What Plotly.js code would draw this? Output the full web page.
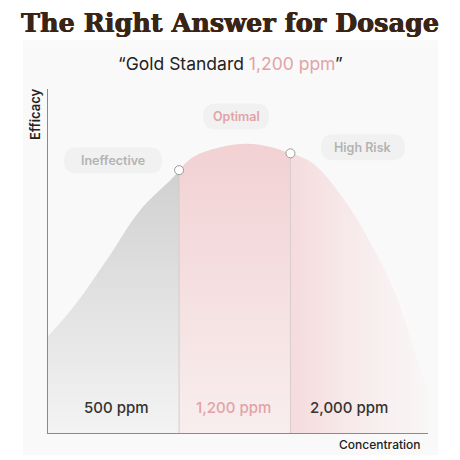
<!DOCTYPE html>
<html><head><meta charset="utf-8">
<script src="https://cdn.plot.ly/plotly-3.0.1.min.js"></script>
<style>html,body{margin:0;padding:0;background:#fff}#chart{width:460px;height:460px}</style>
</head><body><div id="chart"></div>
<script>
// Efficacy curve (arbitrary concentration scale 0-100, efficacy 0-100)
const curveX = [0, 6.7, 15.4, 24.2, 33, 34.5, 38.2, 45, 52.3, 58, 63.8, 69.7, 78.6, 85.5, 91.8, 96.1, 100];
const curveY = [28.1, 36.6, 50.2, 64.7, 74.4, 76.4, 80.2, 83.0, 84.1, 83.3, 81.3, 78.4, 66.8, 54.0, 39.5, 25.0, 12];
// zone boundaries on the concentration scale
const zoneBounds = [0, 34.5, 63.8, 100];
const zoneNames = ['Ineffective', 'Optimal', 'High Risk'];
const doseLabels = ['500 ppm', '1,200 ppm', '2,000 ppm'];
const titleText = 'The Right Answer for Dosage';
const subtitleLead = '“Gold Standard ';
const subtitleHighlight = '1,200 ppm';
const subtitleTail = '”';
const yTitle = 'Efficacy';
const xTitle = 'Concentration';

const PINK = '#e2a3a7';
const fills = [
  {type: 'vertical', start: 0, stop: 80, colorscale: [[0, '#f3f3f3'], [1, '#cfcfcf']]},
  {type: 'vertical', start: 0, stop: 84, colorscale: [[0, '#f8eeee'], [1, '#f2d1d3']]},
  {type: 'horizontal', start: 63.8, stop: 100, colorscale: [[0, '#f5dbdd'], [1, 'rgba(249,244,244,0.6)']]}
];

const traces = [];
for (let z = 0; z < 3; z++) {
  const xs = [], ys = [];
  curveX.forEach((x, i) => {
    if (x >= zoneBounds[z] - 1e-9 && x <= zoneBounds[z + 1] + 1e-9) { xs.push(x); ys.push(curveY[i]); }
  });
  traces.push({
    x: xs, y: ys, type: 'scatter', mode: 'lines',
    line: {width: 0, shape: 'spline', smoothing: 1},
    fill: 'tozeroy', fillgradient: fills[z], hoverinfo: 'skip', showlegend: false
  });
}
// boundary lines and markers
const bx = [zoneBounds[1], zoneBounds[2]];
const by = bx.map(b => curveY[curveX.indexOf(b)]);
bx.forEach((b, i) => {
  traces.push({x: [b, b], y: [0, by[i]], type: 'scatter', mode: 'lines',
    line: {color: '#d6cccc', width: 1}, hoverinfo: 'skip', showlegend: false});
});
traces.push({x: bx, y: by, type: 'scatter', mode: 'markers',
  marker: {size: 9, color: '#ffffff', line: {color: '#9a9a9a', width: 1}},
  hoverinfo: 'skip', showlegend: false});

const zoneLabelX = [17.1, 49.5, 82.9];
const zoneLabelY = [79.2, 92, 83.1];
const pillW = [98, 66, 84];
const pillH = 26;
const doseX = [17.9, 48.9, 79.2];

function pillPath(w, h) {
  const a = w / 2, b = h / 2, r = b;
  return `M ${-a + r},${-b} L ${a - r},${-b} Q ${a},${-b} ${a},0 Q ${a},${b} ${a - r},${b} ` +
         `L ${-a + r},${b} Q ${-a},${b} ${-a},0 Q ${-a},${-b} ${-a + r},${-b} Z`;
}

const shapes = [{type: 'rect', xref: 'paper', yref: 'paper', layer: 'below',
  x0: (23 - 48) / 380, x1: (438 - 48) / 380, y0: (432.7 - 455) / 344, y1: (432.7 - 40) / 344,
  fillcolor: '#f9f9f9', line: {width: 0}}];

const annotations = [];
zoneNames.forEach((n, i) => {
  shapes.push({type: 'path', layer: 'below', xref: 'x', yref: 'y',
    xsizemode: 'pixel', ysizemode: 'pixel', xanchor: zoneLabelX[i], yanchor: zoneLabelY[i],
    path: pillPath(pillW[i], pillH), fillcolor: '#f1f1f1', line: {width: 0}});
  annotations.push({x: zoneLabelX[i], y: zoneLabelY[i], xref: 'x', yref: 'y', text: n,
    xanchor: 'center', yanchor: 'middle', showarrow: false,
    font: {family: 'Inter', size: 12.5, weight: 600, color: i === 1 ? PINK : '#b3b3b3'}});
});
doseLabels.forEach((d, i) => {
  annotations.push({x: doseX[i], y: 7.5, xref: 'x', yref: 'y', text: d, showarrow: false,
    xanchor: 'center', yanchor: 'middle',
    font: {family: 'Inter', size: 15, weight: 500, color: i === 1 ? PINK : '#333333'}});
});
annotations.push({x: 0.479, y: 1.075, xref: 'paper', yref: 'paper', xanchor: 'center', yanchor: 'middle', showarrow: false,
  text: subtitleLead + '<span style="color:' + PINK + '">' + subtitleHighlight + '</span>' + subtitleTail,
  font: {family: 'Inter', size: 17.5, color: '#222222'}});
annotations.push({x: -0.034, y: 0.925, xref: 'paper', yref: 'paper', xanchor: 'center', yanchor: 'middle',
  showarrow: false, textangle: -90,
  text: yTitle, font: {family: 'Inter', size: 13, weight: 600, color: '#222222'}});
annotations.push({x: 0.987, y: -0.033, xref: 'paper', yref: 'paper', xanchor: 'right', yanchor: 'middle', showarrow: false,
  text: xTitle, font: {family: 'Inter', size: 12, weight: 500, color: '#222222'}});

const layout = {
  width: 460, height: 460,
  margin: {l: 48, r: 32, t: 89, b: 27},
  paper_bgcolor: '#ffffff', plot_bgcolor: 'rgba(0,0,0,0)',
  title: {text: titleText, x: 0.5, xref: 'container', y: 0.95, yref: 'container', yanchor: 'middle',
    font: {family: 'DejaVu Serif', size: 25.5, weight: 700, color: '#3a2416',
      shadow: '0.5px 0 0 #3a2416, -0.3px 0 0 #3a2416'}},
  xaxis: {range: [0, 100], showgrid: false, zeroline: false, showline: true, linecolor: '#8a8a8a', linewidth: 1.2,
    showticklabels: false, ticks: '', fixedrange: true},
  yaxis: {range: [0, 100], showgrid: false, zeroline: false, showline: true, linecolor: '#8a8a8a', linewidth: 1.2,
    showticklabels: false, ticks: '', fixedrange: true},
  shapes: shapes,
  annotations: annotations,
  showlegend: false
};
Plotly.newPlot('chart', traces, layout, {displayModeBar: false, staticPlot: true});
</script></body></html>
